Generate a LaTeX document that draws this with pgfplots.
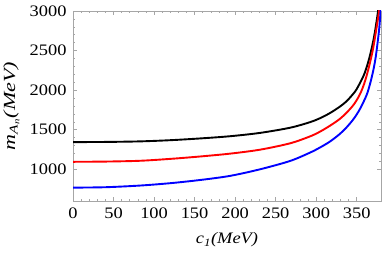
\documentclass[border=0pt]{standalone}
\usepackage{pgfplots}
\pgfplotsset{compat=1.18}
\usepackage{graphicx}
\usepackage{fontspec}
\setmainfont{Liberation Serif}
\begin{document}
\fontsize{16}{19}\selectfont
\begin{tikzpicture}[x=1pt,y=1pt]
\path[use as bounding box] (0,0) rectangle (382,256);
\begin{axis}[
  at={(73pt,55pt)}, anchor=south west,
  scale only axis, width=308pt, height=190pt,
  xmin=0, xmax=380, ymin=600, ymax=3000,
  xtick={0,50,...,350}, ytick={1000,1500,...,3000},
  minor x tick num=4, minor y tick num=4,
  tick align=inside, tick pos=both, ticklabel pos=left,
  major tick length=4pt, minor tick length=2pt,
  axis line style={gray!70, line width=0.6pt},
  every tick/.style={gray!70, line width=0.5pt},
  /pgf/number format/assume math mode=true,
  /pgf/number format/1000 sep={},
  tick label style={font=\fontsize{16}{19}\selectfont, black},
  xticklabel={\scalebox{1.15}[1]{\pgfmathprintnumber{\tick}}},
  yticklabel={\scalebox{1.15}[1]{\pgfmathprintnumber{\tick}}},
  xticklabel style={yshift=-1pt},
  yticklabel style={xshift=-1pt},
  xlabel={\scalebox{1.15}[1]{\textit{c\textsubscript{1}(MeV)}}},
  ylabel={\scalebox{1.3}[1]{\textit{m\textsubscript{A\textsubscript{n}}(MeV)}}},
  xlabel style={at={(axis description cs:0.5,-0.205)}, anchor=center, font=\fontsize{16}{19}\selectfont},
  ylabel style={at={(axis description cs:-0.2,0.5)}, anchor=center, rotate=0, font=\fontsize{17}{20}\selectfont},
  clip=true,
]
\addplot[black, line width=1.9pt, smooth] coordinates {
(0,1344) (40,1346) (82.6,1353) (120,1368) (156.6,1390) (193.6,1418) (230.6,1460) (267.6,1525) (292.2,1595) (304.6,1645) (316.9,1710) (329,1790) (337.5,1860) (345,1945) (349.8,2010) (358,2170) (362,2280) (366.2,2430) (370,2600) (372.4,2730) (375,2900) (376.4,3000) (378,3200)
};
\addplot[red, line width=1.9pt, smooth] coordinates {
(0,1095) (40,1098) (82.6,1108) (120,1132) (156.6,1162) (193.6,1198) (230.6,1248) (267.6,1328) (292.2,1415) (304.6,1475) (316.9,1550) (329,1635) (337.5,1715) (345,1800) (349.8,1870) (355,1970) (359.2,2080) (363,2210) (367.4,2390) (370.5,2540) (373.6,2730) (377.7,3000) (379,3150)
};
\addplot[blue, line width=1.9pt, smooth] coordinates {
(0,769) (40,774) (82.6,795) (120,825) (156.6,865) (193.6,917) (230.6,1000) (267.6,1105) (292.2,1210) (304.6,1275) (316.9,1350) (329,1445) (337.5,1530) (345,1620) (349.8,1690) (355,1780) (362.3,1940) (366.5,2080) (370.5,2250) (373.5,2420) (376.4,2650) (378,2800) (379.5,3000) (380,3100)
};
\end{axis}
\end{tikzpicture}
\end{document}
